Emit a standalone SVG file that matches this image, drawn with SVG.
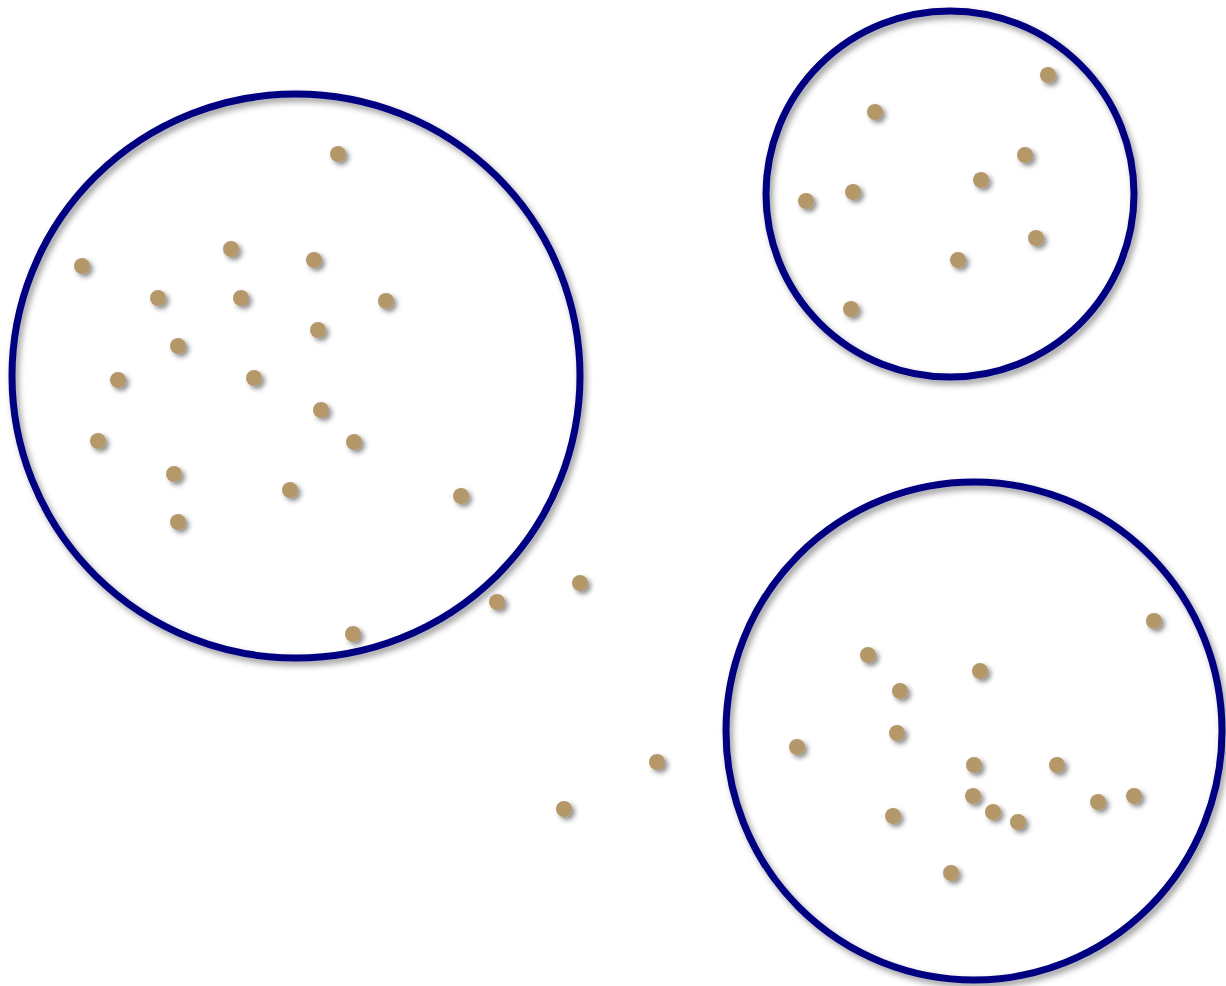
<svg xmlns="http://www.w3.org/2000/svg" width="1226" height="986" viewBox="0 0 1226 986">
<defs>
<filter id="sh" x="-20%" y="-20%" width="150%" height="150%"><feDropShadow dx="3" dy="4" stdDeviation="3" flood-color="#000" flood-opacity="0.4"/></filter>
<filter id="shd" x="-100%" y="-100%" width="300%" height="300%"><feDropShadow dx="3" dy="3" stdDeviation="2.5" flood-color="#000" flood-opacity="0.45"/></filter>
<style>
.c{fill:none;stroke:#000080;stroke-width:7;filter:url(#sh)}
.d{fill:#b5986a;filter:url(#shd)}
</style>
</defs>
<rect width="1226" height="986" fill="#fff"/>
<g id="cluster1"><ellipse class="c" cx="296" cy="376" rx="284" ry="282"/></g>
<g id="cluster2"><ellipse class="c" cx="950" cy="194" rx="184" ry="183"/></g>
<g id="cluster3"><ellipse class="c" cx="974" cy="731" rx="248" ry="249"/></g>
<g id="points">
<circle class="d" cx="338" cy="154" r="8"/>
<circle class="d" cx="82" cy="266" r="8"/>
<circle class="d" cx="231" cy="249" r="8"/>
<circle class="d" cx="314" cy="260" r="8"/>
<circle class="d" cx="158" cy="298" r="8"/>
<circle class="d" cx="241" cy="298" r="8"/>
<circle class="d" cx="386" cy="301" r="8"/>
<circle class="d" cx="318" cy="330" r="8"/>
<circle class="d" cx="178" cy="346" r="8"/>
<circle class="d" cx="118" cy="380" r="8"/>
<circle class="d" cx="254" cy="378" r="8"/>
<circle class="d" cx="321" cy="410" r="8"/>
<circle class="d" cx="98" cy="441" r="8"/>
<circle class="d" cx="354" cy="442" r="8"/>
<circle class="d" cx="174" cy="474" r="8"/>
<circle class="d" cx="290" cy="490" r="8"/>
<circle class="d" cx="461" cy="496" r="8"/>
<circle class="d" cx="178" cy="522" r="8"/>
<circle class="d" cx="353" cy="634" r="8"/>
<circle class="d" cx="580" cy="583" r="8"/>
<circle class="d" cx="497" cy="602" r="8"/>
<circle class="d" cx="657" cy="762" r="8"/>
<circle class="d" cx="564" cy="809" r="8"/>
<circle class="d" cx="1048" cy="75" r="8"/>
<circle class="d" cx="875" cy="112" r="8"/>
<circle class="d" cx="1025" cy="155" r="8"/>
<circle class="d" cx="981" cy="180" r="8"/>
<circle class="d" cx="806" cy="201" r="8"/>
<circle class="d" cx="853" cy="192" r="8"/>
<circle class="d" cx="1036" cy="238" r="8"/>
<circle class="d" cx="958" cy="260" r="8"/>
<circle class="d" cx="851" cy="309" r="8"/>
<circle class="d" cx="1154" cy="621" r="8"/>
<circle class="d" cx="868" cy="655" r="8"/>
<circle class="d" cx="980" cy="671" r="8"/>
<circle class="d" cx="900" cy="691" r="8"/>
<circle class="d" cx="897" cy="733" r="8"/>
<circle class="d" cx="797" cy="747" r="8"/>
<circle class="d" cx="974" cy="765" r="8"/>
<circle class="d" cx="1057" cy="765" r="8"/>
<circle class="d" cx="973" cy="796" r="8"/>
<circle class="d" cx="1134" cy="796" r="8"/>
<circle class="d" cx="1098" cy="802" r="8"/>
<circle class="d" cx="993" cy="812" r="8"/>
<circle class="d" cx="1018" cy="822" r="8"/>
<circle class="d" cx="893" cy="816" r="8"/>
<circle class="d" cx="951" cy="873" r="8"/>
</g>
</svg>
